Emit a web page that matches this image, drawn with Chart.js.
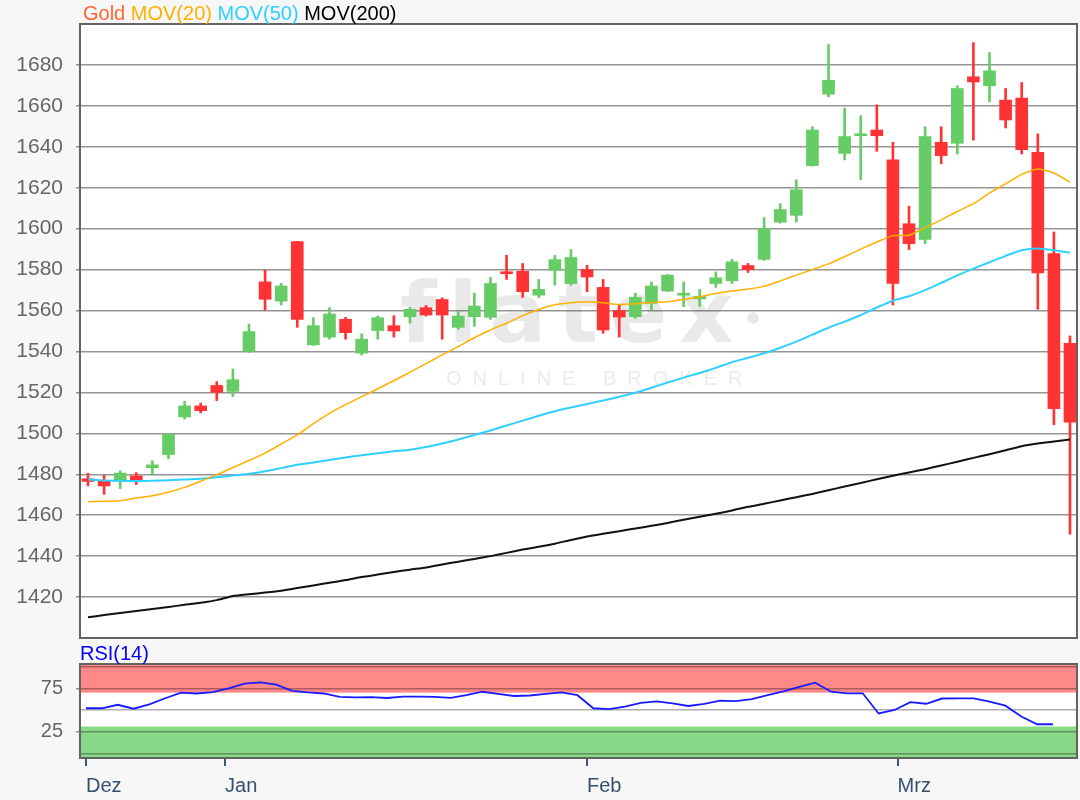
<!DOCTYPE html>
<html>
<head>
<meta charset="utf-8">
<title>Gold – MOV(20) MOV(50) MOV(200) / RSI(14)</title>
<script src="https://cdn.jsdelivr.net/npm/chart.js@4.4.1/dist/chart.umd.min.js"></script>
<style>
  html, body { margin: 0; padding: 0; background: #f7f7f7; }
  #wrap { position: relative; width: 1080px; height: 800px; overflow: hidden;
          font-family: "Liberation Sans", Arial, sans-serif; }
  #priceCanvas { position: absolute; left: 0; top: 0; }
  #rsiCanvas { position: absolute; left: 0; top: 640px; }
  .legend { position: absolute; left: 83px; top: 2px; font-size: 20px; white-space: pre; }
  .rsi-label { position: absolute; left: 80px; top: 642px; font-size: 20px; color: #0000ff; }
</style>
</head>
<body>
<div id="wrap">
  <canvas id="priceCanvas" width="1080" height="640"></canvas>
  <canvas id="rsiCanvas" width="1080" height="160"></canvas>
  <div class="legend"><span style="color:#ff6633">Gold</span> <span style="color:#ffb000">MOV(20)</span> <span style="color:#2fd0ff">MOV(50)</span> <span style="color:#000000">MOV(200)</span></div>
  <div class="rsi-label">RSI(14)</div>
</div>
<script>
// Daily candles (oldest first)
const opens = [1477.8, 1476.7, 1476.7, 1479.2, 1483.2, 1489.6, 1508.0, 1513.4, 1523.4, 1520.5,
  1540.0, 1574.0, 1564.6, 1593.7, 1543.2, 1547.0, 1555.7, 1539.2, 1550.2, 1552.6,
  1557.0, 1561.4, 1565.4, 1551.8, 1557.0, 1556.7, 1578.9, 1579.2, 1567.5, 1579.7,
  1573.2, 1580.0, 1571.3, 1560.0, 1557.0, 1563.5, 1569.5, 1567.5, 1565.7, 1573.2,
  1574.5, 1582.0, 1585.0, 1603.2, 1606.5, 1630.8, 1665.7, 1636.8, 1645.4, 1648.2,
  1633.6, 1602.4, 1594.7, 1642.2, 1641.7, 1674.2, 1669.8, 1662.8, 1663.8, 1637.3,
  1587.8, 1544.0];
const highs = [1480.5, 1479.6, 1481.7, 1480.8, 1486.6, 1500.0, 1515.6, 1514.8, 1525.3, 1531.4,
  1553.4, 1579.8, 1573.3, 1593.8, 1556.5, 1561.4, 1556.7, 1548.6, 1557.3, 1557.5,
  1561.6, 1562.5, 1566.2, 1559.7, 1568.5, 1576.2, 1587.0, 1583.0, 1575.2, 1587.0,
  1589.8, 1582.1, 1575.2, 1562.7, 1568.4, 1574.0, 1577.6, 1574.0, 1570.3, 1578.9,
  1585.0, 1583.0, 1605.4, 1612.2, 1623.9, 1649.8, 1690.0, 1658.9, 1655.2, 1660.5,
  1642.2, 1611.0, 1649.8, 1649.8, 1669.8, 1690.9, 1686.0, 1668.5, 1671.4, 1646.3,
  1598.4, 1547.6];
const lows = [1474.3, 1470.2, 1473.0, 1475.0, 1479.7, 1487.6, 1507.0, 1510.0, 1516.0, 1518.0,
  1539.5, 1560.2, 1562.7, 1551.8, 1543.0, 1546.0, 1546.0, 1538.3, 1546.0, 1547.0,
  1553.8, 1557.3, 1546.0, 1550.9, 1552.3, 1555.7, 1575.2, 1566.4, 1566.4, 1572.4,
  1572.4, 1569.2, 1548.9, 1547.0, 1556.2, 1560.2, 1569.3, 1561.9, 1562.0, 1571.3,
  1573.2, 1578.6, 1584.5, 1602.7, 1603.2, 1630.6, 1664.4, 1633.6, 1623.9, 1637.8,
  1562.7, 1589.8, 1592.7, 1631.7, 1636.5, 1643.3, 1662.0, 1649.2, 1636.5, 1560.6,
  1504.2, 1450.7];
const closes = [1476.5, 1474.3, 1480.6, 1476.8, 1484.6, 1499.4, 1513.4, 1511.1, 1520.0, 1526.2,
  1549.7, 1565.5, 1572.0, 1555.7, 1552.6, 1558.3, 1549.2, 1546.0, 1556.5, 1550.0,
  1560.6, 1557.8, 1557.8, 1557.3, 1562.2, 1573.2, 1578.0, 1569.2, 1570.3, 1584.9,
  1585.9, 1576.4, 1550.5, 1556.8, 1566.4, 1572.0, 1577.3, 1568.4, 1567.0, 1576.0,
  1583.8, 1580.0, 1600.0, 1609.3, 1619.0, 1648.2, 1672.5, 1645.0, 1646.3, 1645.4,
  1573.2, 1592.7, 1645.0, 1635.7, 1668.5, 1671.7, 1677.1, 1653.1, 1638.6, 1578.4,
  1512.0, 1505.4];

// Moving averages, one value per candle
const mov20 = [1466.6, 1466.8, 1467.1, 1468.4, 1469.5, 1471.2, 1473.6, 1476.6, 1479.8, 1483.3,
  1486.7, 1490.3, 1494.8, 1499.2, 1504.8, 1509.8, 1514.0, 1517.9, 1521.8, 1525.7,
  1529.9, 1534.1, 1538.3, 1542.4, 1546.7, 1550.5, 1553.8, 1557.5, 1560.5, 1562.8,
  1563.8, 1564.3, 1563.8, 1563.0, 1563.3, 1563.9, 1564.3, 1565.4, 1566.7, 1568.3,
  1569.5, 1570.5, 1571.8, 1574.5, 1577.3, 1580.0, 1582.8, 1586.3, 1590.0, 1593.5,
  1596.6, 1596.8, 1600.5, 1604.3, 1608.4, 1612.2, 1617.4, 1621.9, 1626.5, 1629.2,
  1627.2, 1622.7];
const mov50 = [1477.4, 1477.0, 1476.8, 1476.7, 1476.8, 1477.1, 1477.5, 1477.8, 1478.5, 1479.4,
  1480.2, 1481.5, 1483.0, 1484.6, 1485.8, 1487.0, 1488.2, 1489.3, 1490.3, 1491.2,
  1492.0, 1493.3, 1495.0, 1497.0, 1499.2, 1501.4, 1503.8, 1506.2, 1508.6, 1510.8,
  1512.6, 1514.3, 1516.0, 1517.9, 1519.8, 1522.3, 1524.8, 1527.2, 1529.5, 1532.0,
  1534.8, 1536.9, 1539.1, 1541.8, 1544.8, 1548.2, 1551.6, 1554.6, 1557.8, 1561.5,
  1564.8, 1567.0, 1570.0, 1573.5, 1577.2, 1580.5, 1583.6, 1586.7, 1589.5, 1590.3,
  1589.5, 1588.3];
const mov200 = [1410.1, 1411.2, 1412.2, 1413.2, 1414.2, 1415.2, 1416.2, 1417.2, 1418.5, 1420.5,
  1421.4, 1422.2, 1423.1, 1424.4, 1425.7, 1427.0, 1428.3, 1429.8, 1431.0, 1432.2,
  1433.4, 1434.5, 1435.9, 1437.3, 1438.6, 1440.0, 1441.6, 1443.2, 1444.6, 1446.1,
  1447.9, 1449.6, 1450.9, 1452.2, 1453.5, 1454.8, 1456.2, 1457.8, 1459.2, 1460.7,
  1462.3, 1464.1, 1465.6, 1467.2, 1468.8, 1470.4, 1472.2, 1474.0, 1475.7, 1477.6,
  1479.3, 1480.9, 1482.5, 1484.3, 1486.1, 1488.0, 1489.8, 1491.7, 1493.7, 1495.0,
  1496.0, 1497.0];

// RSI(14)
const rsi = [52, 52, 56, 51.5, 56.5, 63.5, 70, 69, 70.5, 75,
  80.4, 81.8, 79.1, 72.1, 70.3, 69, 65, 64.5, 64.8, 63.8,
  65.3, 65.3, 65.2, 64, 67.2, 71, 68.5, 66.1, 66.7, 68.5,
  70.3, 67, 52, 51, 54, 58.2, 60, 57.5, 54.6, 57,
  60.7, 60.3, 62.5, 67, 71.5, 76.6, 81.5, 71, 69.2, 69.2,
  46, 50, 59, 57.2, 63.2, 63.4, 63.4, 59.6, 55, 42.6,
  33.6, 33.6];

// Axis ticks and bands
const priceTicks = [1420, 1440, 1460, 1480, 1500, 1520, 1540, 1560, 1580, 1600, 1620, 1640, 1660, 1680];
const rsiGrid = [0, 25, 50, 75, 100];
const rsiTickLabels = [25, 75];
const rsiOverbought = 70;
const rsiOversold = 31;
const monthLabels = ['Dez', 'Jan', 'Feb', 'Mrz'];
const monthStarts = [0, 8.77, 31.6, 51.2];   // in RSI point index

// Styling
const FONT = '"Liberation Sans", Arial, sans-serif';
const UP_COLOR = '#66cc66';
const DOWN_COLOR = '#ff3333';
const FRAME_COLOR = '#646464';

Chart.defaults.font.family = FONT;

/**
 * Green when the day closed higher, red otherwise
 */
function candleColor(ctx) {
    const i = ctx.dataIndex;
    return closes[i] >= opens[i] ? UP_COLOR : DOWN_COLOR;
}

/**
 * Draw text one letter at a time with extra spacing
 */
function spacedText(ctx, text, x, y, gap) {
    for (const ch of text) {
        ctx.fillText(ch, x, y);
        x += ctx.measureText(ch).width + gap;
    }
}

/**
 * Faint broker logo behind the candles
 */
function drawWatermark(ctx) {
    ctx.fillStyle = '#e9e9e9';
    ctx.textAlign = 'left';
    ctx.textBaseline = 'alphabetic';
    ctx.font = 'bold 84px "DejaVu Sans"';
    spacedText(ctx, 'flatex', 400, 342, 12);
    ctx.beginPath();
    ctx.arc(753, 318, 6, 0, Math.PI * 2);
    ctx.fill();
    ctx.fillStyle = '#ebebeb';
    ctx.font = '20px ' + FONT;
    spacedText(ctx, 'ONLINE BROKER', 446, 385, 11);
}

function drawFrame(chart) {
    const { ctx, chartArea: a } = chart;
    ctx.save();
    ctx.strokeStyle = FRAME_COLOR;
    ctx.lineWidth = 2;
    ctx.strokeRect(a.left, a.top, a.right - a.left, a.bottom - a.top);
    ctx.restore();
}

const priceBackground = {
    id: 'priceBackground',
    beforeDraw(chart) {
        const { ctx, chartArea: a } = chart;
        ctx.save();
        ctx.fillStyle = '#ffffff';
        ctx.fillRect(a.left, a.top, a.right - a.left, a.bottom - a.top);
        drawWatermark(ctx);
        ctx.restore();
    },
    afterDraw: drawFrame
};

const rsiBackground = {
    id: 'rsiBackground',
    beforeDraw(chart) {
        const { ctx, chartArea: a } = chart;
        const y = chart.scales.y;
        ctx.save();
        ctx.fillStyle = '#ffffff';
        ctx.fillRect(a.left, a.top, a.right - a.left, a.bottom - a.top);
        const yHigh = y.getPixelForValue(rsiOverbought);
        const yLow = y.getPixelForValue(rsiOversold);
        ctx.fillStyle = '#ff8888';
        ctx.fillRect(a.left, a.top, a.right - a.left, yHigh - a.top);
        ctx.fillStyle = '#88d888';
        ctx.fillRect(a.left, yLow, a.right - a.left, a.bottom - yLow);
        ctx.restore();
    },
    afterDraw: drawFrame
};

function maLine(values, color, width) {
    return {
        type: 'line',
        data: values.map((v, i) => ({ x: i, y: v })),
        borderColor: color,
        borderWidth: width,
        pointRadius: 0,
        tension: 0.2,
        order: 0
    };
}

/**
 * Price chart: candles built from floating bars plus three averages
 */
function buildPriceChart() {
    const ctx = document.getElementById('priceCanvas').getContext('2d');
    return new Chart(ctx, {
        type: 'bar',
        data: {
            datasets: [
                maLine(mov20, '#ffb000', 1.5),
                maLine(mov50, '#2fd0ff', 2),
                maLine(mov200, '#111111', 2),
                {
                    label: 'body',
                    data: opens.map((o, i) => ({ x: i, y: [o, closes[i]] })),
                    backgroundColor: candleColor,
                    barThickness: 12,
                    minBarLength: 2,
                    grouped: false,
                    order: 1
                },
                {
                    label: 'wick',
                    data: lows.map((l, i) => ({ x: i, y: [l, highs[i]] })),
                    backgroundColor: candleColor,
                    barThickness: 2,
                    grouped: false,
                    order: 2
                }
            ]
        },
        options: {
            responsive: false,
            animation: false,
            layout: { padding: { top: 24, right: 3, bottom: 2, left: 0 } },
            plugins: { legend: { display: false }, tooltip: { enabled: false } },
            scales: {
                x: {
                    type: 'linear',
                    display: false,
                    offset: false,
                    bounds: 'data',
                    min: -0.497,
                    max: 61.435
                },
                y: {
                    min: 1400,
                    max: 1700,
                    bounds: 'data',
                    afterBuildTicks: s => { s.ticks = priceTicks.map(v => ({ value: v })); },
                    afterFit: s => { s.width = 80; s.paddingTop = 0; s.paddingBottom = 0; },
                    border: { display: false },
                    grid: { color: 'rgba(0,0,0,0.42)', lineWidth: 1.5, tickLength: 4 },
                    ticks: {
                        callback: v => String(v),
                        autoSkip: false,
                        color: '#666666',
                        padding: 13,
                        font: { size: 21 }
                    }
                }
            }
        },
        plugins: [priceBackground]
    });
}

/**
 * RSI panel with overbought / oversold bands and month axis
 */
function buildRsiChart() {
    const ctx = document.getElementById('rsiCanvas').getContext('2d');
    return new Chart(ctx, {
        type: 'line',
        data: {
            datasets: [{
                data: rsi.map((v, i) => ({ x: i, y: v })),
                borderColor: '#1a1aff',
                borderWidth: 1.8,
                pointRadius: 0,
                tension: 0
            }]
        },
        options: {
            responsive: false,
            animation: false,
            layout: { padding: { top: 24, right: 3, bottom: 0, left: 0 } },
            plugins: { legend: { display: false }, tooltip: { enabled: false } },
            scales: {
                x: {
                    type: 'linear',
                    bounds: 'data',
                    offset: false,
                    min: -0.3785,
                    max: 62.516,
                    afterBuildTicks: s => { s.ticks = monthStarts.map(v => ({ value: v })); },
                    afterFit: s => { s.height = 42; s.paddingLeft = 0; s.paddingRight = 0; },
                    border: { display: false },
                    grid: { drawOnChartArea: false, tickLength: 8, color: '#3d5878', lineWidth: 2 },
                    ticks: {
                        callback: (v, i) => monthLabels[i],
                        align: 'start',
                        autoSkip: false,
                        maxRotation: 0,
                        color: '#34506e',
                        padding: 8,
                        font: { size: 20 }
                    }
                },
                y: {
                    min: -5.2,
                    max: 102.9,
                    bounds: 'data',
                    afterBuildTicks: s => { s.ticks = rsiGrid.map(v => ({ value: v })); },
                    afterFit: s => { s.width = 80; s.paddingTop = 0; s.paddingBottom = 0; },
                    border: { display: false },
                    grid: {
                        color: 'rgba(0,0,0,0.32)',
                        lineWidth: 1.5,
                        tickLength: 4,
                        tickColor: c => rsiTickLabels.includes(c.tick.value) ? 'rgba(0,0,0,0.42)' : 'transparent'
                    },
                    ticks: {
                        callback: v => rsiTickLabels.includes(v) ? String(v) : '',
                        autoSkip: false,
                        color: '#666666',
                        padding: 13,
                        font: { size: 20 }
                    }
                }
            }
        },
        plugins: [rsiBackground]
    });
}

buildPriceChart();
buildRsiChart();
</script>
</body>
</html>
